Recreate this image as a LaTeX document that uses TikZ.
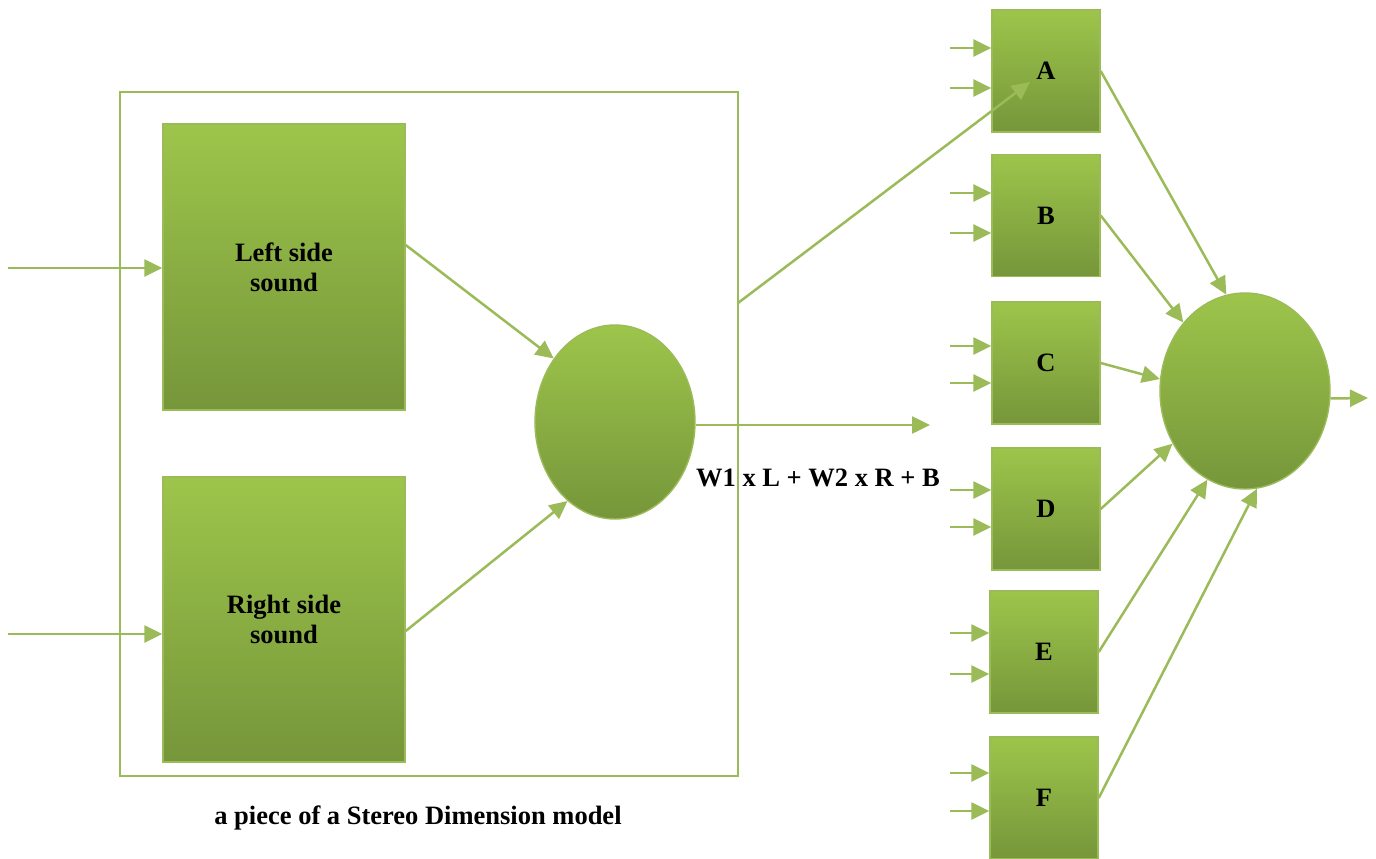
\documentclass[tikz,border=0pt]{standalone}
\usepackage{fontspec}
\setmainfont{Liberation Serif}
\usetikzlibrary{arrows.meta}
\usetikzlibrary{shapes.geometric}
\usetikzlibrary{positioning}
\definecolor{leaftop}{HTML}{9DC54B}
\definecolor{leafbot}{HTML}{76963A}
\definecolor{leafline}{HTML}{9BBB59}
\tikzset{
  % green shaded block
  block/.style = {
    draw = leafline,
    line width = 1.4pt,
    top color = leaftop,
    bottom color = leafbot,
    rectangle,
    inner sep = 0,
    align = center,
    font = \fontsize{26.5}{30}\selectfont\bfseries
  },
  % the input boxes on the right
  gate/.style = {
    block,
    minimum width = 108pt,
    minimum height = 122pt
  },
  % summing node
  sum/.style = {
    block,
    ellipse
  },
  % connector with an arrow at its end
  arr/.style = {
    draw = leafline,
    line width = 2.5pt,
    -{Triangle[length=18pt,width=17pt]}
  },
  % connector with no arrow
  narr/.style = {
    draw = leafline,
    line width = 2.2pt
  },
  label text/.style = {
    font = \fontsize{26.5}{30}\selectfont\bfseries
  }
}

\begin{document}
\begin{tikzpicture}[x=1pt, y=-1pt]
    \useasboundingbox (0,0) rectangle (1376,859);

    % the stereo piece
    \node[narr, rectangle, minimum width=618pt, minimum height=684pt, inner sep=0]
      (frame) at (429,434) {};

    \node[block, minimum width=242pt, minimum height=286pt] (lbox) at (284,267)
      {Left side\\sound};
    \node[block, minimum width=242pt, minimum height=285pt] (rbox) at (284,619.5)
      {Right side\\sound};

    \node[sum, minimum width=160pt, minimum height=194pt] (sum1) at (615,422) {};

    \coordinate (in-l) at (8,268);
    \coordinate (in-r) at (8,634);
    \coordinate (out1) at (930,425);
    \coordinate (tap) at (738,303);

    \node[label text] (formula) at (818,478) {W1 x L + W2 x R + B};
    \node[label text] (caption) at (418,818) {a piece of a Stereo Dimension model};

    % the six boxes
    \node[gate] (A) at (1046,71) {A};
    \node[gate] (B) at (1046,215.5) {B};
    \node[gate] (C) at (1046,363) {C};
    \node[gate] (D) at (1046,509) {D};
    \node[gate] (E) at (1044,652) {E};
    \node[gate] (F) at (1044,798) {F};

    \node[sum, minimum width=170pt, minimum height=196pt] (sum2) at (1245,391) {};
    \coordinate (out2) at (1368,398);

    \coordinate (a-tip) at (1030,82);

    % left side
    \draw[arr] (in-l) -- (lbox.west |- in-l);
    \draw[arr] (in-r) -- (rbox.west |- in-r);

    \draw[arr] (lbox.east |- 0,245) -- (sum1.134);
    \draw[arr] (rbox.east |- 0,631) -- (sum1.239);

    \draw[arr] (sum1.east |- out1) -- (out1);

    \draw[arr] (tap) -- (a-tip);

    % small inputs of each box
    \foreach \b/\ya/\yb in {A/48/88, B/193/233, C/346/383, D/490/527, E/633/674, F/773/811}
    {
      \draw[arr] (950,\ya) -- (\b.west |- 0,\ya);
      \draw[arr] (950,\yb) -- (\b.west |- 0,\yb);
    }

    % into the second sum
    \draw[arr] (A.east) -- (sum2.101);
    \draw[arr] (B.east) -- (sum2.132);
    \draw[arr] (C.east) -- (sum2.172);
    \draw[arr] (D.east) -- (sum2.216);
    \draw[arr] (E.east) -- (sum2.247);
    \draw[arr] (F.east) -- (sum2.277);

    \draw[arr] (sum2.-5) -- (out2);
\end{tikzpicture}
\end{document}
